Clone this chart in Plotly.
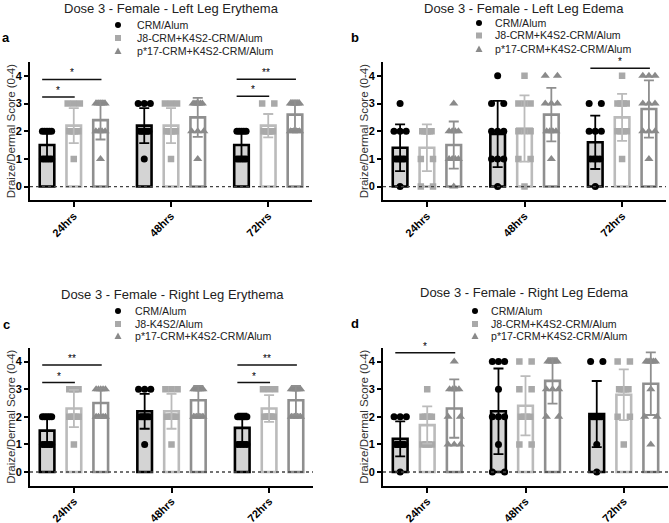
import plotly.graph_objects as go
import numpy as np

W, H = 669, 523

categories = ["24hrs", "48hrs", "72hrs"]
groups_std = ["CRM/Alum", "J8-CRM+K4S2-CRM/Alum", "p*17-CRM+K4S2-CRM/Alum"]
groups_c = ["CRM/Alum", "J8-K4S2/Alum", "p*17-CRM+K4S2-CRM/Alum"]
titles = ["Dose 3 - Female - Left Leg Erythema", "Dose 3 - Female - Left Leg Edema",
          "Dose 3 - Female - Right Leg Erythema", "Dose 3 - Female - Right Leg Edema"]
letters = ["a", "b", "c", "d"]
y_title = "Draize/Dermal Score (0-4)"

# individual scores (n=10 per group), per time point 24h / 48h / 72h
a_crm = [[2, 2, 2, 2, 2, 1, 1, 1, 1, 1], [3, 3, 3, 2, 2, 2, 2, 2, 2, 1], [2, 2, 2, 2, 2, 1, 1, 1, 1, 1]]
a_j8 = [[3, 3, 3, 2, 2, 2, 2, 2, 2, 1], [3, 3, 3, 2, 2, 2, 2, 2, 2, 1], [3, 3, 2, 2, 2, 2, 2, 2, 2, 2]]
a_p17 = [[3, 3, 3, 3, 3, 2, 2, 2, 2, 1], [3, 3, 3, 3, 3, 3, 2, 2, 2, 1], [3, 3, 3, 3, 3, 3, 2, 2, 2, 2]]

b_crm = [[3, 2, 2, 2, 1, 1, 1, 1, 1, 0], [4, 3, 3, 2, 2, 2, 1, 1, 1, 0], [3, 3, 2, 2, 2, 1, 1, 1, 1, 0]]
b_j8 = [[2, 2, 2, 2, 2, 2, 1, 1, 0, 0], [4, 3, 3, 3, 2, 2, 2, 1, 1, 0], [4, 3, 3, 3, 3, 2, 2, 2, 2, 1]]
b_p17 = [[3, 2, 2, 2, 2, 1, 1, 1, 1, 0], [4, 4, 3, 3, 3, 2, 2, 2, 2, 1], [4, 4, 4, 3, 3, 3, 2, 2, 2, 1]]

c_crm = [[2, 2, 2, 2, 2, 1, 1, 1, 1, 1], [3, 3, 3, 2, 2, 2, 2, 2, 2, 1], [2, 2, 2, 2, 2, 2, 1, 1, 1, 1]]
c_j8 = [[3, 3, 3, 3, 2, 2, 2, 2, 2, 1], [3, 3, 3, 2, 2, 2, 2, 2, 2, 1], [3, 3, 3, 2, 2, 2, 2, 2, 2, 2]]
c_p17 = [[3, 3, 3, 3, 3, 2, 2, 2, 2, 2], [3, 3, 3, 3, 3, 3, 2, 2, 2, 2], [3, 3, 3, 3, 3, 3, 2, 2, 2, 2]]

d_crm = [[2, 2, 2, 1, 1, 1, 1, 1, 1, 0], [4, 4, 4, 3, 2, 2, 2, 1, 0, 0], [4, 4, 2, 2, 2, 2, 2, 2, 1, 0]]
d_j8 = [[3, 2, 2, 2, 2, 2, 1, 1, 1, 1], [4, 4, 3, 3, 2, 2, 2, 2, 1, 1], [4, 4, 3, 3, 3, 3, 3, 2, 2, 1]]
d_p17 = [[4, 3, 3, 3, 3, 2, 2, 1, 1, 1], [4, 4, 4, 4, 4, 3, 3, 3, 2, 2], [4, 4, 4, 4, 4, 4, 3, 2, 2, 1]]

# significance: (time index, group from, group to, line level, label)
sig_a = [(0, 0, 1, 3.24, "*"), (0, 0, 2, 3.87, "*"), (2, 0, 1, 3.26, "*"), (2, 0, 2, 3.88, "**")]
sig_b = [(2, 0, 2, 4.27, "*")]
sig_c = [(0, 0, 1, 3.24, "*"), (0, 0, 2, 3.88, "**"), (2, 0, 1, 3.24, "*"), (2, 0, 2, 3.88, "**")]
sig_d = [(0, 0, 2, 4.32, "*")]

panels_data = [
    ([a_crm, a_j8, a_p17], groups_std, sig_a),
    ([b_crm, b_j8, b_p17], groups_std, sig_b),
    ([c_crm, c_j8, c_p17], groups_c, sig_c),
    ([d_crm, d_j8, d_p17], groups_std, sig_d),
]

# ---- styling / layout geometry (pixels) ----
geo = [
    dict(x0=30, x1=312, ytop=62, ybot=200.4, tx=171, ty=9, lsx=118, ltx=135, ly=[25, 38, 51], lbx=6, lby=37),
    dict(x0=383, x1=666, ytop=62, ybot=200.4, tx=524, ty=9, lsx=479, ltx=493, ly=[23, 35.5, 49], lbx=355, lby=37),
    dict(x0=30, x1=313, ytop=347.8, ybot=485.8, tx=172, ty=294, lsx=118, ltx=133, ly=[311, 324, 336], lbx=6, lby=324),
    dict(x0=383, x1=668, ytop=347.8, ybot=485.8, tx=524, ty=292, lsx=475, ltx=489, ly=[311, 324, 336], lbx=355, lby=323),
]
offsets = [-0.275, 0.0, 0.275]
bar_w = 0.15
fills = ["#d4d4d4", "white", "white"]
outlines = ["#000000", "#bbbbbb", "#8f8f8f"]
mcolors = ["#000000", "#a9a9a9", "#8a8a8a"]
msymbols = ["circle", "square", "triangle-up"]
msizes = [7, 6.5, 8]
FONT = "Liberation Sans, Arial, sans-serif"


def px(x):
    return x / W


def py(y):
    return 1 - y / H


def spread(vals):
    vals = np.asarray(vals)
    offs = np.zeros(len(vals))
    for v in np.unique(vals):
        idx = np.where(vals == v)[0]
        k = len(idx)
        if k > 1:
            span = 0.125 if k <= 3 else 0.095
            offs[idx] = np.linspace(-span / 2, span / 2, k)
    return offs


fig = go.Figure()
shapes = []
annotations = []

for p, (series, gnames, sigs) in enumerate(panels_data):
    g = geo[p]
    xa = "x" if p == 0 else f"x{p+1}"
    ya = "y" if p == 0 else f"y{p+1}"
    cat_idx = np.arange(len(categories))
    for gi, scores in enumerate(series):
        pos = cat_idx + offsets[gi]
        arr = np.array(scores, dtype=float)
        means = arr.mean(axis=1)
        sds = arr.std(axis=1, ddof=1)
        fig.add_trace(go.Bar(x=pos, y=means, width=bar_w, xaxis=xa, yaxis=ya,
                             marker=dict(color=fills[gi], line=dict(color=outlines[gi], width=2.6)),
                             showlegend=False, hoverinfo="skip"))
        xs, ys = [], []
        for ci in range(len(categories)):
            o = spread(scores[ci])
            xs.extend(list(pos[ci] + o))
            ys.extend(scores[ci])
        fig.add_trace(go.Scatter(x=xs, y=ys, mode="markers", xaxis=xa, yaxis=ya,
                                 marker=dict(symbol=msymbols[gi], size=msizes[gi], color=mcolors[gi],
                                             line=dict(width=0)),
                                 showlegend=False, name=gnames[gi]))
        fig.add_trace(go.Scatter(x=pos, y=means, mode="markers", xaxis=xa, yaxis=ya,
                                 marker=dict(size=1, opacity=0),
                                 error_y=dict(type="data", array=sds, color=outlines[gi] if gi else "#000",
                                              thickness=1.8, width=5),
                                 showlegend=False, hoverinfo="skip"))
        # legend symbol + text
        cx, cy = px(g["lsx"]), py(g["ly"][gi])
        common = dict(xref="paper", yref="paper", xsizemode="pixel", ysizemode="pixel",
                      xanchor=cx, yanchor=cy, fillcolor=mcolors[gi], line=dict(width=0))
        if gi == 0:
            shapes.append(dict(type="circle", x0=-3, x1=3, y0=-3, y1=3, **common))
        elif gi == 1:
            shapes.append(dict(type="rect", x0=-3, x1=3, y0=-3, y1=3, **common))
        else:
            shapes.append(dict(type="path", path="M -3.5,-3 L 3.5,-3 L 0,3.5 Z", **common))
        annotations.append(dict(x=px(g["ltx"]), y=py(g["ly"][gi]), xref="paper", yref="paper",
                                text=gnames[gi], showarrow=False, xanchor="left", yanchor="middle",
                                font=dict(family=FONT, size=10.6, color="#222")))

    # dotted zero line
    shapes.append(dict(type="line", xref=xa, yref=ya, x0=-0.45, x1=2.45, y0=0, y1=0,
                       line=dict(color="#444", width=1.3, dash="dot")))
    # significance brackets
    for (ci, g0, g1, lev, lab) in sigs:
        xa0 = ci + offsets[g0] - 0.05
        xa1 = ci + offsets[g1] + 0.01
        shapes.append(dict(type="line", xref=xa, yref=ya, x0=xa0, x1=xa1, y0=lev, y1=lev,
                           line=dict(color="#111", width=1.5)))
        annotations.append(dict(x=(xa0 + xa1) / 2, y=lev, xref=xa, yref=ya, text=lab,
                                showarrow=False, yanchor="bottom", yshift=-1,
                                font=dict(family=FONT, size=10, color="#000")))
    # title, panel letter, y-axis title
    annotations.append(dict(x=px(g["tx"]), y=py(g["ty"]), xref="paper", yref="paper", text=titles[p],
                            showarrow=False, xanchor="center", yanchor="middle",
                            font=dict(family=FONT, size=13, color="#222")))
    annotations.append(dict(x=px(g["lbx"]), y=py(g["lby"]), xref="paper", yref="paper", text=letters[p],
                            showarrow=False, xanchor="center", yanchor="middle",
                            font=dict(family=FONT, size=13, color="#000", weight="bold")))
    annotations.append(dict(x=px(g["x0"] - 19), y=py((g["ytop"] + g["ybot"]) / 2), xref="paper",
                            yref="paper", text=y_title, textangle=-90, showarrow=False,
                            xanchor="center", yanchor="middle",
                            font=dict(family=FONT, size=11.5, color="#333")))

    xkey = "xaxis" if p == 0 else f"xaxis{p+1}"
    ykey = "yaxis" if p == 0 else f"yaxis{p+1}"
    fig.update_layout(**{
        xkey: dict(domain=[px(g["x0"]), px(g["x1"])], range=[-0.45, 2.45], anchor=ya,
                   tickvals=list(cat_idx), ticktext=categories, tickangle=-45,
                   ticks="outside", ticklen=5, tickwidth=1.5, tickcolor="#000", ticklabelstandoff=-2,
                   showline=True, linewidth=1.8, linecolor="#000", showgrid=False, zeroline=False,
                   tickfont=dict(family=FONT, size=11, color="#000", weight="bold"), automargin=False,
                   fixedrange=True),
        ykey: dict(domain=[py(g["ybot"]), py(g["ytop"])], range=[-0.5, 4.5], anchor=xa,
                   tickvals=[0, 1, 2, 3, 4], ticks="outside", ticklen=4, tickwidth=1.5, tickcolor="#000",
                   showline=True, linewidth=1.8, linecolor="#000", showgrid=False, zeroline=False,
                   tickfont=dict(family=FONT, size=11, color="#000", weight="bold"),
                   automargin=False, fixedrange=True),
    })

fig.update_layout(width=W, height=H, margin=dict(l=0, r=0, t=0, b=0), barmode="overlay",
                  plot_bgcolor="white", paper_bgcolor="white", showlegend=False,
                  shapes=shapes, annotations=annotations)
fig.write_html("out.html", config={"displayModeBar": False},
               post_script="document.body.style.margin='0';document.body.style.padding='0';")
